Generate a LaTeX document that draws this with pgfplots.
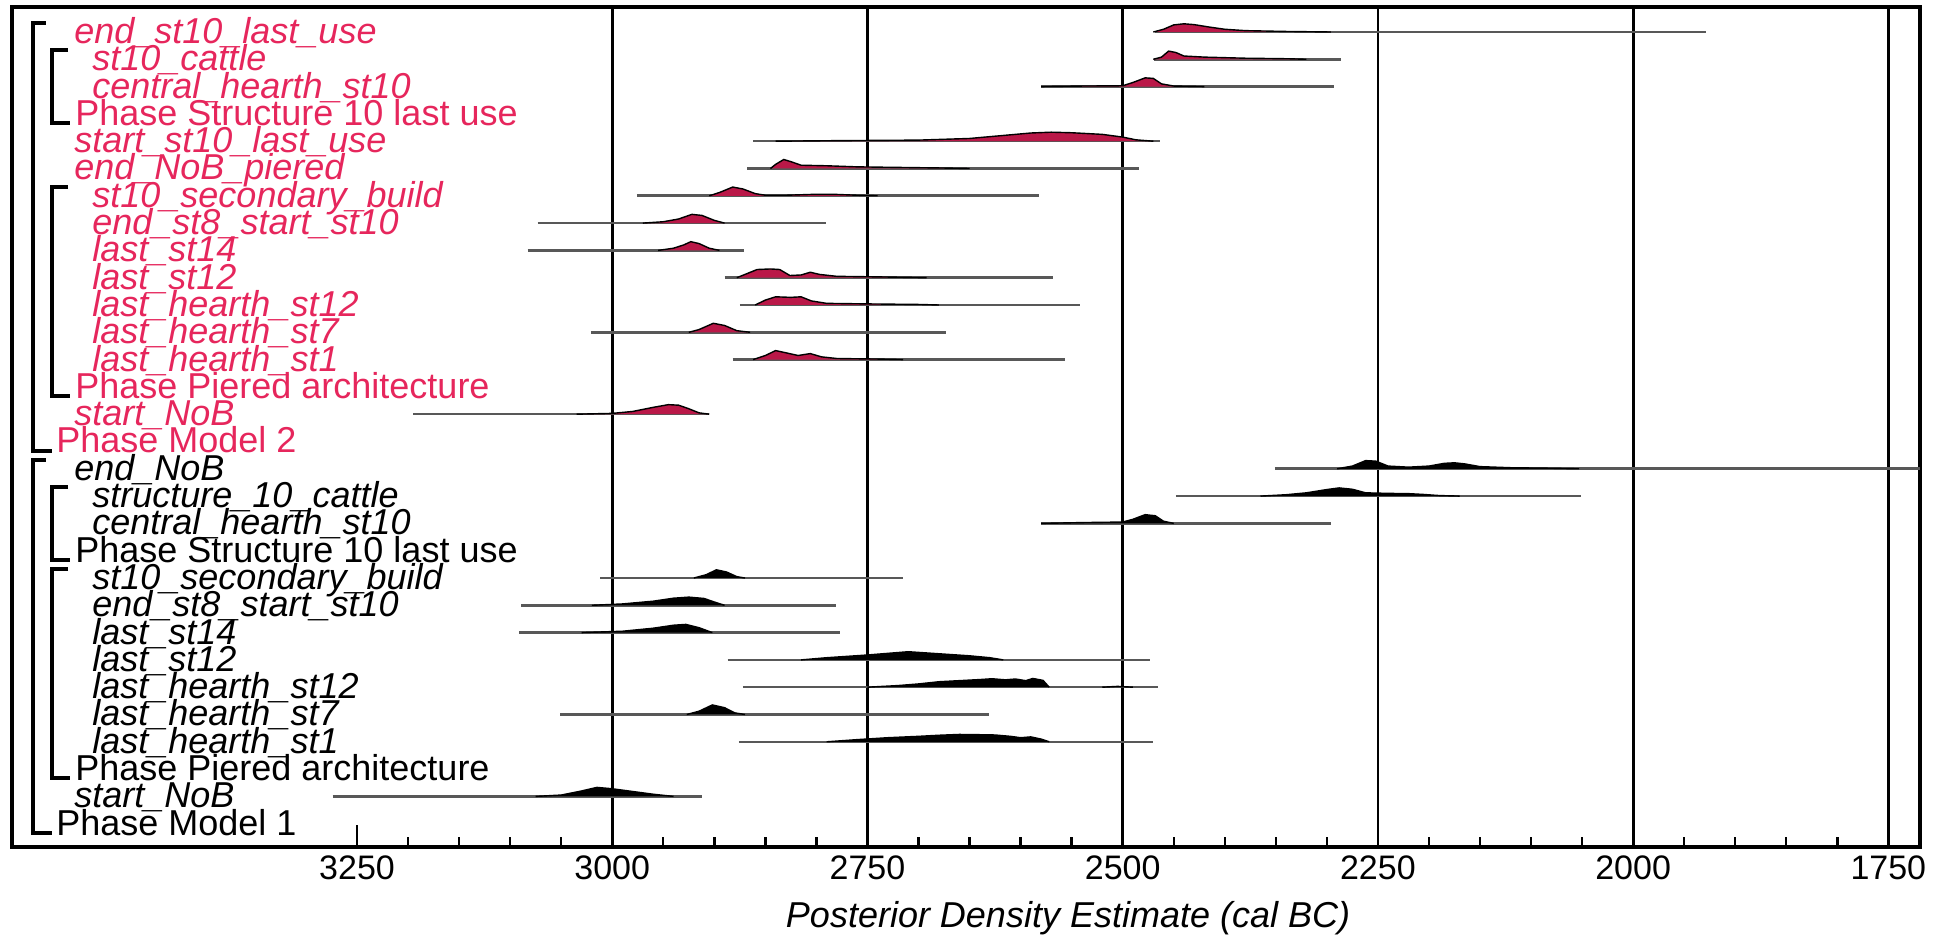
\documentclass[border=0pt]{standalone}
\usepackage{fontspec}
\setmainfont{Liberation Sans}
\usepackage{pgfplots}
\pgfplotsset{compat=1.18}
\definecolor{oxred}{RGB}{230,38,92}
\definecolor{oxfill}{RGB}{186,24,72}
\definecolor{rangegray}{RGB}{88,88,88}
\newcommand{\lab}{\fontsize{18}{18}\selectfont}
\newcommand{\tlab}{\fontsize{17}{17}\selectfont}
\begin{document}
\begin{tikzpicture}
\useasboundingbox (-6pt,-45pt) rectangle (968pt,423.5pt);
\begin{axis}[
  at={(0,0)}, anchor=south west,
  width=954pt, height=420pt, scale only axis,
  x dir=reverse, xmin=1719, xmax=3588, ymin=0.1465, ymax=30.916,
  clip=false,
  axis line style={line width=2pt},
  ytick=\empty,
  xtick={1750,2000,2250,2500,2750,3000,3250},
  minor xtick={1800,1850,1900,1950,2050,2100,2150,2200,2300,2350,2400,2450,2550,2600,2650,2700,2800,2850,2900,2950,3050,3100,3150,3200},
  xtick pos=bottom, tick align=inside,
  major tick length=11pt, minor tick length=5pt,
  every tick/.style={black, line width=1.2pt},
  extra x ticks={1750,2000,2250,2500,2750,3000},
  extra x tick labels={},
  extra x tick style={grid=major, major grid style={black, line width=1.4pt}},
  xticklabel style={font=\tlab, anchor=base, yshift=-16.4pt},
  /pgf/number format/assume math mode=true,
  /pgf/number format/set thousands separator={},
  xlabel={\textit{Posterior Density Estimate (cal BC)}},
  xlabel style={font=\lab, at={(axis description cs:0.5535,0)}, anchor=base, yshift=-40pt},
]
% ---------- range lines ----------
\pgfplotsset{rg/.style={rangegray, line width=1.3pt}}
\addplot[rg] coordinates {(2468,30) (1929,30)};
\addplot[rg] coordinates {(2469,29) (2286,29)};
\addplot[rg] coordinates {(2580,28) (2293,28)};
\addplot[rg] coordinates {(2862,26) (2463,26)};
\addplot[rg] coordinates {(2868,25) (2484,25)};
\addplot[rg] coordinates {(2976,24) (2582,24)};
\addplot[rg] coordinates {(3073,23) (2791,23)};
\addplot[rg] coordinates {(3083,22) (2871,22)};
\addplot[rg] coordinates {(2890,21) (2568,21)};
\addplot[rg] coordinates {(2875,20) (2542,20)};
\addplot[rg] coordinates {(3021,19) (2673,19)};
\addplot[rg] coordinates {(2882,18) (2557,18)};
\addplot[rg] coordinates {(3195,16) (2905,16)};
\addplot[rg] coordinates {(2351,14) (1719,14)};
\addplot[rg] coordinates {(2448,13) (2051,13)};
\addplot[rg] coordinates {(2580,12) (2296,12)};
\addplot[rg] coordinates {(3012,10) (2715,10)};
\addplot[rg] coordinates {(3089,9) (2781,9)};
\addplot[rg] coordinates {(3091,8) (2777,8)};
\addplot[rg] coordinates {(2887,7) (2473,7)};
\addplot[rg] coordinates {(2872,6) (2465,6)};
\addplot[rg] coordinates {(3051,5) (2631,5)};
\addplot[rg] coordinates {(2876,4) (2470,4)};
\addplot[rg] coordinates {(3274,2) (2912,2)};
% ---------- Model 2 densities (red) ----------
\pgfplotsset{rd/.style={fill=oxfill, draw=black, line width=0.7pt}, bk/.style={fill=black, draw=black, line width=0.7pt}}
\addplot[rd] coordinates {(2470,30) (2460,30.10) (2450,30.26) (2440,30.30) (2430,30.27) (2415,30.18) (2400,30.10) (2380,30.05) (2340,30.02) (2296,30)};
\addplot[rd] coordinates {(2470,29) (2462,29.08) (2455,29.30) (2448,29.25) (2440,29.12) (2420,29.08) (2400,29.06) (2380,29.04) (2338,29.02) (2320,29)};
\addplot[rd] coordinates {(2580,28) (2540,28.02) (2500,28.03) (2490,28.15) (2478,28.32) (2470,28.30) (2462,28.10) (2450,28.02) (2420,28)};
\addplot[rd] coordinates {(2840,26) (2780,26.02) (2700,26.04) (2650,26.10) (2620,26.20) (2590,26.30) (2570,26.33) (2550,26.31) (2520,26.25) (2500,26.15) (2487,26.05) (2470,26)};
\addplot[rd] coordinates {(2845,25) (2840,25.15) (2832,25.33) (2825,25.25) (2815,25.12) (2790,25.10) (2760,25.06) (2720,25.04) (2680,25.02) (2650,25)};
\addplot[rd] coordinates {(2905,24) (2895,24.12) (2882,24.32) (2872,24.25) (2860,24.08) (2850,24.02) (2830,24.02) (2805,24.05) (2780,24.05) (2760,24.02) (2740,24)};
\addplot[rd] coordinates {(2970,23) (2950,23.05) (2935,23.15) (2922,23.32) (2912,23.28) (2900,23.10) (2890,23)};
\addplot[rd] coordinates {(2955,22) (2940,22.08) (2930,22.20) (2923,22.32) (2915,22.25) (2905,22.08) (2895,22)};
\addplot[rd] coordinates {(2878,21) (2868,21.15) (2858,21.30) (2845,21.32) (2836,21.30) (2826,21.08) (2815,21.10) (2806,21.20) (2797,21.12) (2780,21.05) (2740,21.03) (2692,21)};
\addplot[rd] coordinates {(2860,20) (2850,20.18) (2840,20.30) (2825,20.28) (2815,20.30) (2805,20.15) (2790,20.06) (2750,20.04) (2700,20.02) (2680,20)};
\addplot[rd] coordinates {(2925,19) (2915,19.10) (2901,19.33) (2890,19.25) (2878,19.06) (2865,19)};
\addplot[rd] coordinates {(2862,18) (2850,18.15) (2840,18.33) (2830,18.25) (2818,18.15) (2806,18.22) (2795,18.10) (2780,18.04) (2740,18.02) (2715,18)};
\addplot[rd] coordinates {(3035,16) (3000,16.03) (2980,16.10) (2960,16.25) (2945,16.35) (2935,16.33) (2925,16.20) (2915,16.05) (2905,16)};
% ---------- Model 1 densities (black) ----------
\addplot[bk] coordinates {(2290,14) (2275,14.10) (2262,14.30) (2252,14.28) (2240,14.10) (2220,14.06) (2200,14.10) (2185,14.20) (2175,14.22) (2165,14.18) (2150,14.08) (2120,14.04) (2080,14.02) (2053,14)};
\addplot[bk] coordinates {(2365,13) (2340,13.05) (2320,13.12) (2300,13.24) (2288,13.30) (2275,13.25) (2262,13.12) (2240,13.10) (2220,13.09) (2205,13.06) (2190,13.02) (2170,13)};
\addplot[bk] coordinates {(2580,12) (2540,12.03) (2520,12.04) (2500,12.05) (2490,12.15) (2478,12.32) (2468,12.28) (2460,12.08) (2450,12)};
\addplot[bk] coordinates {(2920,10) (2908,10.12) (2898,10.30) (2888,10.22) (2878,10.05) (2870,10)};
\addplot[bk] coordinates {(3020,9) (2990,9.05) (2960,9.15) (2940,9.26) (2925,9.30) (2910,9.25) (2900,9.12) (2890,9)};
\addplot[bk] coordinates {(3030,8) (2990,8.05) (2960,8.16) (2940,8.27) (2928,8.30) (2915,8.18) (2902,8)};
\addplot[bk] coordinates {(2815,7) (2790,7.08) (2770,7.13) (2750,7.18) (2730,7.24) (2710,7.30) (2690,7.25) (2670,7.20) (2650,7.15) (2630,7.08) (2617,7)};
\addplot[bk] coordinates {(2750,6) (2720,6.06) (2700,6.12) (2680,6.20) (2660,6.24) (2640,6.28) (2628,6.31) (2615,6.27) (2605,6.30) (2595,6.24) (2588,6.32) (2578,6.25) (2572,6)};
\addplot[bk] coordinates {(2520,6) (2505,6.03) (2490,6)};
\addplot[bk] coordinates {(2927,5) (2915,5.12) (2902,5.35) (2890,5.25) (2880,5.06) (2870,5)};
\addplot[bk] coordinates {(2790,4) (2760,4.08) (2730,4.15) (2700,4.20) (2680,4.24) (2660,4.27) (2640,4.26) (2625,4.25) (2610,4.20) (2600,4.15) (2590,4.18) (2580,4.10) (2572,4)};
\addplot[bk] coordinates {(3075,2) (3050,2.05) (3030,2.20) (3015,2.33) (3000,2.28) (2980,2.18) (2960,2.08) (2940,2)};
% ---------- brackets ----------
\draw[line width=2pt] (axis cs:3554.7,30.33) -- (axis cs:3567.4,30.33) -- (axis cs:3567.4,14.67) -- (axis cs:3548.8,14.67);
\draw[line width=2pt] (axis cs:3554.7,14.33) -- (axis cs:3567.4,14.33) -- (axis cs:3567.4,0.67) -- (axis cs:3548.8,0.67);
\draw[line width=2pt] (axis cs:3533.1,29.33) -- (axis cs:3548.8,29.33) -- (axis cs:3548.8,26.67) -- (axis cs:3531.2,26.67);
\draw[line width=2pt] (axis cs:3533.1,24.33) -- (axis cs:3548.8,24.33) -- (axis cs:3548.8,16.67) -- (axis cs:3531.2,16.67);
\draw[line width=2pt] (axis cs:3533.1,13.33) -- (axis cs:3548.8,13.33) -- (axis cs:3548.8,10.67) -- (axis cs:3531.2,10.67);
\draw[line width=2pt] (axis cs:3533.1,10.33) -- (axis cs:3548.8,10.33) -- (axis cs:3548.8,2.67) -- (axis cs:3531.2,2.67);
% ---------- labels ----------
\begin{scope}[every node/.style={anchor=base west, inner sep=0pt, font=\lab}]
\node[oxred] at (axis cs:3527.3,29.58) {\itshape end\_st10\_last\_use};
\node[oxred] at (axis cs:3509.6,28.58) {\itshape st10\_cattle};
\node[oxred] at (axis cs:3509.6,27.58) {\itshape central\_hearth\_st10};
\node[oxred] at (axis cs:3526.3,26.58) {Phase Structure 10 last use};
\node[oxred] at (axis cs:3527.3,25.58) {\itshape start\_st10\_last\_use};
\node[oxred] at (axis cs:3527.3,24.58) {\itshape end\_NoB\_piered};
\node[oxred] at (axis cs:3509.6,23.58) {\itshape st10\_secondary\_build};
\node[oxred] at (axis cs:3509.6,22.58) {\itshape end\_st8\_start\_st10};
\node[oxred] at (axis cs:3509.6,21.58) {\itshape last\_st14};
\node[oxred] at (axis cs:3509.6,20.58) {\itshape last\_st12};
\node[oxred] at (axis cs:3509.6,19.58) {\itshape last\_hearth\_st12};
\node[oxred] at (axis cs:3509.6,18.58) {\itshape last\_hearth\_st7};
\node[oxred] at (axis cs:3509.6,17.58) {\itshape last\_hearth\_st1};
\node[oxred] at (axis cs:3526.3,16.58) {Phase Piered architecture};
\node[oxred] at (axis cs:3527.3,15.58) {\itshape start\_NoB};
\node[oxred] at (axis cs:3544.9,14.58) {Phase Model 2};
\node at (axis cs:3527.3,13.58) {\itshape end\_NoB};
\node at (axis cs:3509.6,12.58) {\itshape structure\_10\_cattle};
\node at (axis cs:3509.6,11.58) {\itshape central\_hearth\_st10};
\node at (axis cs:3526.3,10.58) {Phase Structure 10 last use};
\node at (axis cs:3509.6,9.58) {\itshape st10\_secondary\_build};
\node at (axis cs:3509.6,8.58) {\itshape end\_st8\_start\_st10};
\node at (axis cs:3509.6,7.58) {\itshape last\_st14};
\node at (axis cs:3509.6,6.58) {\itshape last\_st12};
\node at (axis cs:3509.6,5.58) {\itshape last\_hearth\_st12};
\node at (axis cs:3509.6,4.58) {\itshape last\_hearth\_st7};
\node at (axis cs:3509.6,3.58) {\itshape last\_hearth\_st1};
\node at (axis cs:3526.3,2.58) {Phase Piered architecture};
\node at (axis cs:3527.3,1.58) {\itshape start\_NoB};
\node at (axis cs:3544.9,0.58) {Phase Model 1};
\end{scope}
\end{axis}
\end{tikzpicture}
\end{document}
